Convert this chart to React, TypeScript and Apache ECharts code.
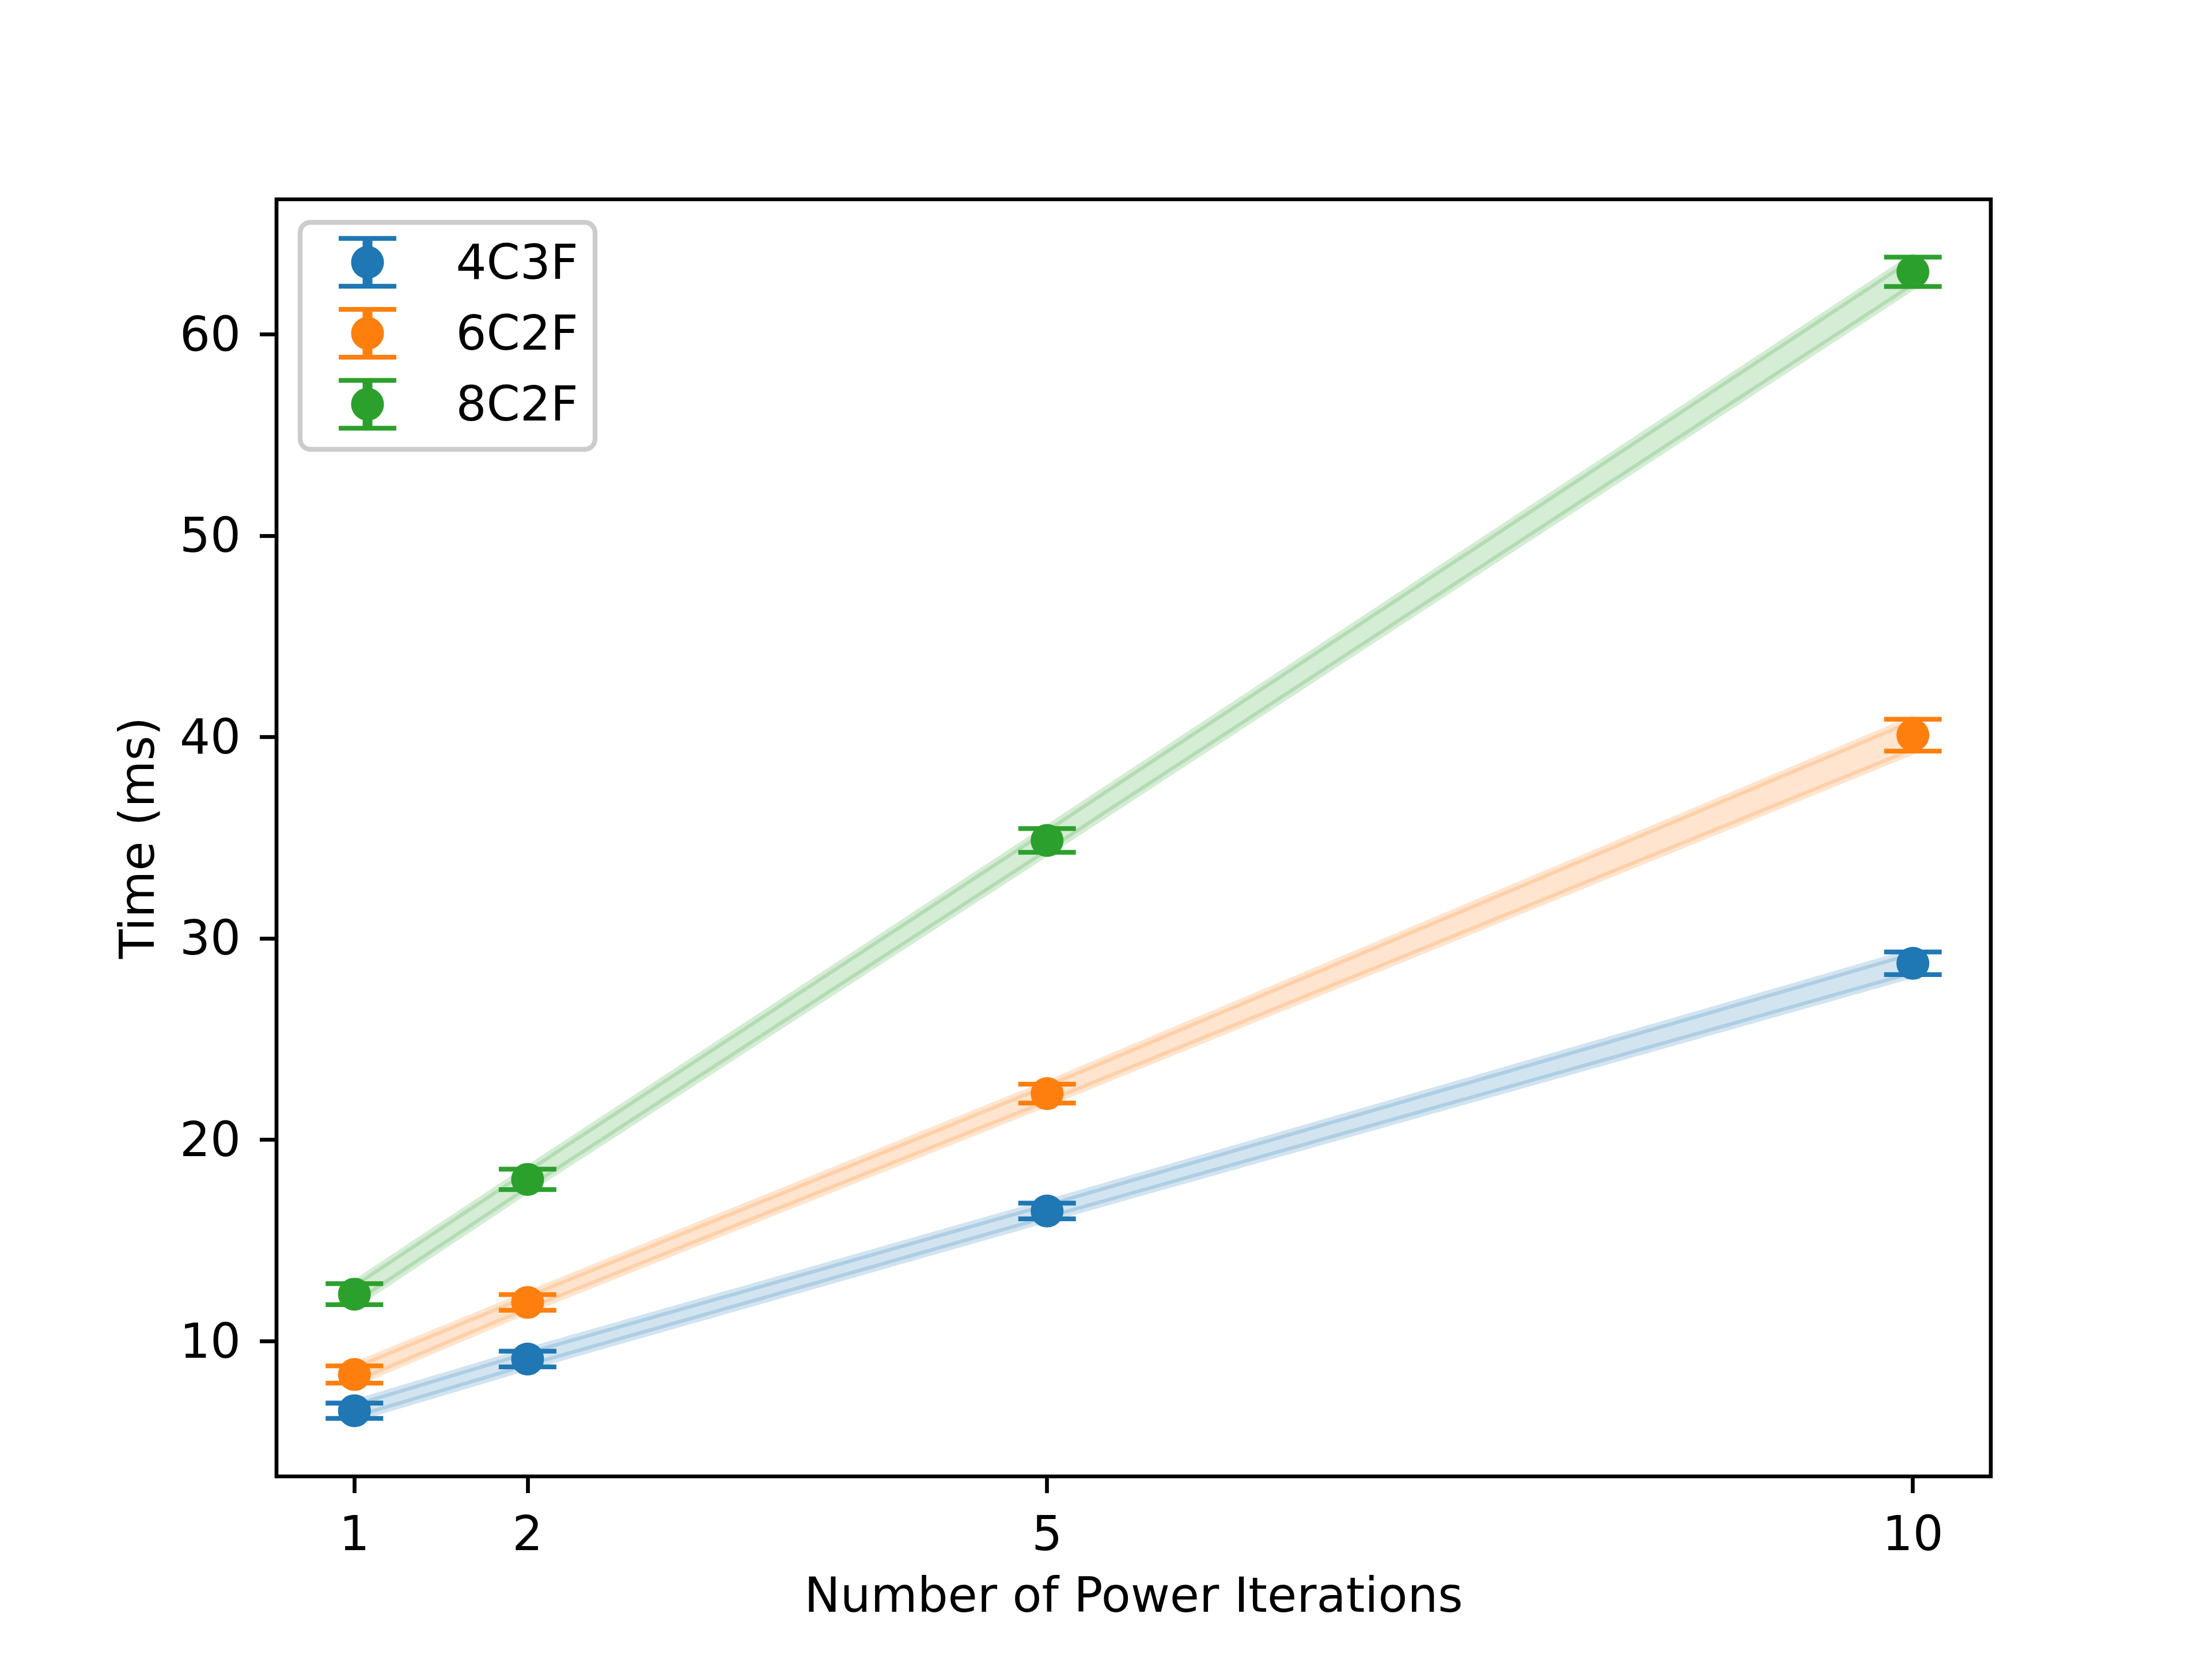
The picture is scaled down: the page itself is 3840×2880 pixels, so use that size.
import React, { useEffect, useRef } from "react";
import * as echarts from "echarts";

// ---- data ----
const X_VALUES = [1, 2, 5, 10];
const SERIES_NAMES = ["4C3F", "6C2F", "8C2F"];
const MEAN_4C3F = [6.54, 9.11, 16.46, 28.76];
const ERR_4C3F = [0.38, 0.39, 0.39, 0.56];
const MEAN_6C2F = [8.34, 11.92, 22.29, 40.09];
const ERR_6C2F = [0.43, 0.39, 0.47, 0.79];
const MEAN_8C2F = [12.33, 18.03, 34.86, 63.1];
const ERR_8C2F = [0.52, 0.51, 0.59, 0.73];
const X_TICKS = [1, 2, 5, 10];
const Y_TICKS = [10, 20, 30, 40, 50, 60];
const COLORS = ["#1f77b4", "#ff7f0e", "#2ca02c"];

const MEANS = [MEAN_4C3F, MEAN_6C2F, MEAN_8C2F];
const ERRS = [ERR_4C3F, ERR_6C2F, ERR_8C2F];

const FONT = "DejaVu Sans";
const FS = 83.33;

function rgba(hex: string, a: number) {
  const n = parseInt(hex.slice(1), 16);
  return `rgba(${(n >> 16) & 255},${(n >> 8) & 255},${n & 255},${a})`;
}

export default function App() {
  const ref = useRef<HTMLDivElement>(null);

  useEffect(() => {
    document.body.style.margin = "0";
    if (!ref.current) return;
    const chart = echarts.init(ref.current, undefined, { renderer: "svg" });

    const series: any[] = [];
    SERIES_NAMES.forEach((name, i) => {
      const c = COLORS[i];
      const mean = MEANS[i];
      const err = ERRS[i];
      const bandData = X_VALUES.map((x, j) => [x, mean[j] - err[j], mean[j] + err[j]]);
      // shaded band (fill_between mean ± err)
      series.push({
        type: "custom",
        name: name + " band",
        data: bandData,
        encode: { x: 0, y: [1, 2] },
        silent: true,
        z: 1,
        renderItem: (params: any, api: any) => {
          if (params.dataIndex !== 0) return null;
          const n = params.dataInsideLength;
          const upper: number[][] = [];
          const lower: number[][] = [];
          for (let k = 0; k < n; k++) {
            upper.push(api.coord([api.value(0, k), api.value(2, k)]));
            lower.push(api.coord([api.value(0, k), api.value(1, k)]));
          }
          const pts = upper.concat(lower.reverse());
          return {
            type: "polygon",
            shape: { points: pts },
            style: { fill: rgba(c, 0.2), stroke: rgba(c, 0.2), lineWidth: 12.5, lineJoin: "round" },
          };
        },
      });
      // error bars
      series.push({
        type: "custom",
        name: name,
        data: bandData,
        encode: { x: 0, y: [1, 2] },
        z: 3,
        renderItem: (params: any, api: any) => {
          const lo = api.coord([api.value(0), api.value(1)]);
          const hi = api.coord([api.value(0), api.value(2)]);
          const hw = 50;
          return {
            type: "group",
            children: [
              {
                type: "line",
                shape: { x1: lo[0], y1: lo[1], x2: hi[0], y2: hi[1] },
                style: { stroke: c, lineWidth: 12.5 },
              },
              {
                type: "line",
                shape: { x1: lo[0] - hw, y1: lo[1], x2: lo[0] + hw, y2: lo[1] },
                style: { stroke: c, lineWidth: 8.3 },
              },
              {
                type: "line",
                shape: { x1: hi[0] - hw, y1: hi[1], x2: hi[0] + hw, y2: hi[1] },
                style: { stroke: c, lineWidth: 8.3 },
              },
            ],
          };
        },
      });
      // markers
      series.push({
        type: "scatter",
        name: name,
        data: X_VALUES.map((x, j) => [x, mean[j]]),
        symbol: "circle",
        symbolSize: 57,
        itemStyle: { color: c, opacity: 1 },
        z: 4,
      });
    });

    // legend drawn as graphic (matplotlib-style errorbar handles)
    const legendChildren: any[] = [
      {
        type: "rect",
        shape: { x: 521, y: 386, width: 512, height: 394, r: 18 },
        style: { fill: "rgba(255,255,255,0.8)", stroke: "#cccccc", lineWidth: 8.3 },
      },
    ];
    SERIES_NAMES.forEach((name, i) => {
      const c = COLORS[i];
      const cy = 455.4 + i * 123.2;
      const cx = 638;
      legendChildren.push(
        {
          type: "line",
          shape: { x1: cx, y1: cy - 41.5, x2: cx, y2: cy + 41.5 },
          style: { stroke: c, lineWidth: 17 },
        },
        {
          type: "line",
          shape: { x1: cx - 50, y1: cy - 41.5, x2: cx + 50, y2: cy - 41.5 },
          style: { stroke: c, lineWidth: 8.3 },
        },
        {
          type: "line",
          shape: { x1: cx - 50, y1: cy + 41.5, x2: cx + 50, y2: cy + 41.5 },
          style: { stroke: c, lineWidth: 8.3 },
        },
        {
          type: "circle",
          shape: { cx: cx, cy: cy, r: 28.5 },
          style: { fill: c },
        },
        {
          type: "text",
          style: {
            text: name,
            x: 791.5,
            y: cy,
            fill: "#000",
            fontSize: FS,
            fontFamily: FONT,
            textVerticalAlign: "middle",
            verticalAlign: "middle",
          },
        }
      );
    });

    const axisCommon = {
      type: "value" as const,
      axisLine: { show: false },
      splitLine: { show: false },
      axisTick: {
        show: true,
        length: 29,
        inside: false,
        lineStyle: { color: "#000", width: 6.7 },
      },
      nameLocation: "middle" as const,
      nameTextStyle: { color: "#000", fontSize: FS, fontFamily: FONT },
    };

    chart.setOption({
      animation: false,
      backgroundColor: "#ffffff",
      grid: {
        left: 480,
        right: 384,
        top: 346,
        bottom: 317,
        show: true,
        borderColor: "#000",
        borderWidth: 6.7,
        backgroundColor: "transparent",
        containLabel: false,
        outerBoundsMode: "none",
      },
      xAxis: {
        ...axisCommon,
        min: 0.55,
        max: 10.45,
        name: "Number of Power Iterations",
        nameGap: 165,
        axisTick: { ...axisCommon.axisTick, customValues: X_TICKS },
        axisLabel: {
          customValues: X_TICKS,
          margin: 58,
          color: "#000",
          fontSize: FS,
          fontFamily: FONT,
        },
      },
      yAxis: {
        ...axisCommon,
        min: 3.28,
        max: 66.7,
        name: "Time (ms)",
        nameGap: 200,
        axisTick: { ...axisCommon.axisTick, customValues: Y_TICKS },
        axisLabel: {
          customValues: Y_TICKS,
          margin: 62,
          color: "#000",
          fontSize: FS,
          fontFamily: FONT,
        },
      },
      series,
      graphic: [{ type: "group", children: legendChildren, z: 100 }],
    });

    return () => {
      chart.dispose();
    };
  }, []);

  return (
    <div
      ref={ref}
      style={{ position: "absolute", left: 0, top: 0, width: 3840, height: 2880 }}
    />
  );
}
